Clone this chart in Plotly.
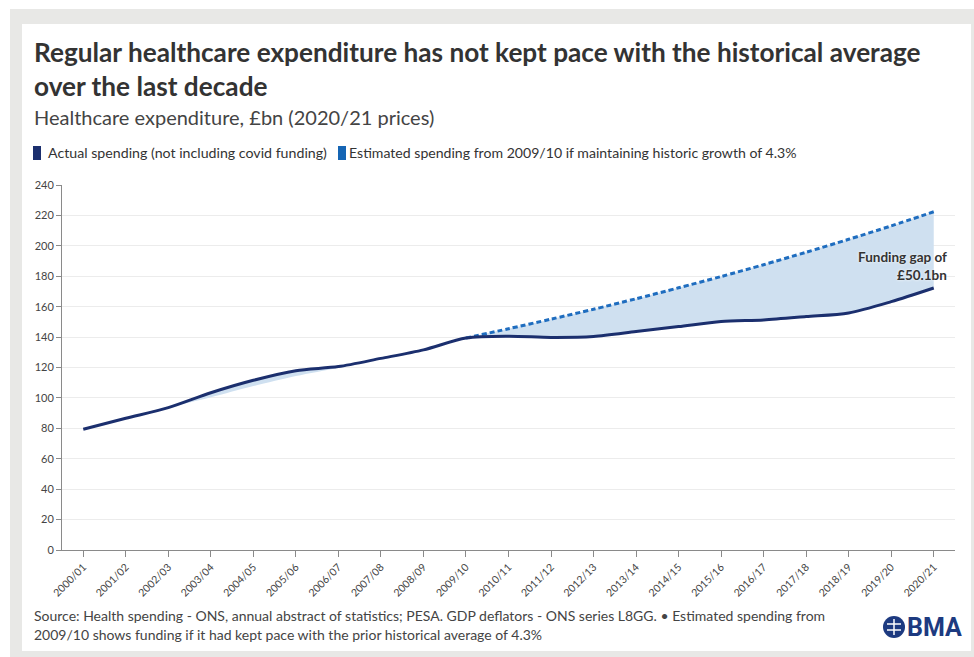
import plotly.graph_objects as go

years = ["2000/01", "2001/02", "2002/03", "2003/04", "2004/05", "2005/06", "2006/07",
         "2007/08", "2008/09", "2009/10", "2010/11", "2011/12", "2012/13", "2013/14",
         "2014/15", "2015/16", "2016/17", "2017/18", "2018/19", "2019/20", "2020/21"]
actual = [79.4, 86.6, 93.6, 103.4, 111.6, 117.9, 120.6, 126.0, 131.6, 139.4, 140.6,
          139.8, 140.4, 143.6, 146.9, 150.3, 151.3, 153.5, 155.9, 163.3, 172.3]
est_years = years[9:]
estimated = [139.4, 145.5, 151.8, 158.3, 165.2, 172.4, 179.8, 187.6, 195.8, 204.3, 213.1, 222.4]
# lower edge of the light shading in the early years (2000/01 - 2009/10)
shade_low_early = [79.4, 86.6, 93.6, 100.4, 107.8, 114.4, 119.9, 126.0, 131.6, 139.4]

shade_low = shade_low_early + actual[10:]
shade_high = actual[:10] + estimated[1:]

FONT = "Lato"
NAVY = "#1b2f6e"
BLUE = "#1f6dbf"
FILL = "#cfe0f0"
TXT = "#333333"

fig = go.Figure()
fig.add_trace(go.Scatter(x=years, y=shade_low, mode="lines",
                         line=dict(width=0, shape="spline", smoothing=0.8, color=FILL),
                         hoverinfo="skip", showlegend=False))
fig.add_trace(go.Scatter(x=years, y=shade_high, mode="lines", fill="tonexty", fillcolor=FILL,
                         line=dict(width=0, shape="spline", smoothing=0.8, color=FILL),
                         hoverinfo="skip", showlegend=False))
fig.add_trace(go.Scatter(x=est_years, y=estimated, mode="lines",
                         name="Estimated spending from 2009/10 if maintaining historic growth of 4.3%",
                         line=dict(width=3, color=BLUE, dash="5px,3px", shape="spline", smoothing=0.8),
                         showlegend=False))
fig.add_trace(go.Scatter(x=years, y=actual, mode="lines",
                         name="Actual spending (not including covid funding)",
                         line=dict(width=3, color=NAVY, shape="spline", smoothing=0.8),
                         showlegend=False))

# pixel -> paper helpers (plot area: x 62..955, y 185..550)
L, R, T, B = 62, 955, 185, 550
def px(x):
    return (x - L) / (R - L)
def py(y):
    return (B - y) / (B - T)

shapes = [
    # outer gray frame and white card
    dict(type="rect", xref="paper", yref="paper", x0=px(10), x1=px(990), y0=py(9), y1=py(680),
         fillcolor="#e8e8e6", line=dict(width=0), layer="below"),
    dict(type="rect", xref="paper", yref="paper", x0=px(22), x1=px(971), y0=py(24), y1=py(651),
         fillcolor="white", line=dict(width=0), layer="below"),
    # legend swatches
    dict(type="rect", xref="paper", yref="paper", x0=px(33), x1=px(41), y0=py(146), y1=py(160),
         fillcolor=NAVY, line=dict(width=0)),
    dict(type="rect", xref="paper", yref="paper", x0=px(338), x1=px(346), y0=py(146), y1=py(160),
         fillcolor="#1565b4", line=dict(width=0)),
    # BMA logo circle
    dict(type="circle", xref="paper", yref="paper", x0=px(883), x1=px(905), y0=py(616), y1=py(638),
         fillcolor="#1d3a80", line=dict(width=0)),
    dict(type="line", xref="paper", yref="paper", x0=px(887), x1=px(901), y0=py(624), y1=py(624),
         line=dict(color="white", width=1.5)),
    dict(type="line", xref="paper", yref="paper", x0=px(887), x1=px(901), y0=py(630), y1=py(630),
         line=dict(color="white", width=1.5)),
    dict(type="line", xref="paper", yref="paper", x0=px(894), x1=px(894), y0=py(619), y1=py(635),
         line=dict(color="white", width=1.5)),
]

annotations = [
    dict(text="<b>Regular healthcare expenditure has not kept pace with the historical average</b>",
         xref="paper", yref="paper", x=px(32), y=py(52), xanchor="left", yanchor="middle",
         showarrow=False, font=dict(family=FONT, size=26.2, color=TXT)),
    dict(text="<b>over the last decade</b>",
         xref="paper", yref="paper", x=px(32), y=py(86), xanchor="left", yanchor="middle",
         showarrow=False, font=dict(family=FONT, size=26.2, color=TXT)),
    dict(text="Healthcare expenditure, £bn (2020/21 prices)",
         xref="paper", yref="paper", x=px(32), y=py(117), xanchor="left", yanchor="middle",
         showarrow=False, font=dict(family=FONT, size=20, color="#444444")),
    dict(text="Actual spending (not including covid funding)",
         xref="paper", yref="paper", x=px(46), y=py(153), xanchor="left", yanchor="middle",
         showarrow=False, font=dict(family=FONT, size=14.2, color=TXT)),
    dict(text="Estimated spending from 2009/10 if maintaining historic growth of 4.3%",
         xref="paper", yref="paper", x=px(347), y=py(153), xanchor="left", yanchor="middle",
         showarrow=False, font=dict(family=FONT, size=14.1, color=TXT)),
    dict(text="<b>Funding gap of<br>£50.1bn</b>",
         xref="paper", yref="y", x=px(949), y=187, xanchor="right", yanchor="middle", align="right",
         showarrow=False, font=dict(family=FONT, size=13.5, color=TXT, shadow="0px 0px 3px white")),
    dict(text="Source: Health spending - ONS, annual abstract of statistics; PESA. GDP deflators - ONS series L8GG. • Estimated spending from",
         xref="paper", yref="paper", x=px(32), y=py(615), xanchor="left", yanchor="middle",
         showarrow=False, font=dict(family=FONT, size=14.0, color="#444444")),
    dict(text="2009/10 shows funding if it had kept pace with the prior historical average of 4.3%",
         xref="paper", yref="paper", x=px(32), y=py(634), xanchor="left", yanchor="middle",
         showarrow=False, font=dict(family=FONT, size=14.0, color="#444444")),
    dict(text="<b>BMA</b>",
         xref="paper", yref="paper", x=px(905), y=py(627), xanchor="left", yanchor="middle",
         showarrow=False, font=dict(family="Roboto", size=25, color="#1d3a80")),
]

fig.update_layout(
    width=974, height=657,
    margin=dict(l=L, r=974 - R, t=T, b=657 - B),
    paper_bgcolor="white", plot_bgcolor="white",
    shapes=shapes, annotations=annotations,
    showlegend=False,
    font=dict(family=FONT, color=TXT),
    xaxis=dict(type="category", categoryorder="array", categoryarray=years,
               range=[-0.5, 20.5], showgrid=False, showline=True, linecolor="#8a8a8a",
               linewidth=1, ticks="outside", ticklen=6, tickcolor="#8a8a8a",
               tickangle=-45, tickfont=dict(family=FONT, size=10.5, color="#444444")),
    yaxis=dict(range=[0, 240], dtick=20, showgrid=True, gridcolor="#ececec", gridwidth=1,
               showline=True, linecolor="#8a8a8a", linewidth=1, ticks="outside", ticklen=5,
               tickcolor="#8a8a8a", zeroline=False,
               tickfont=dict(family=FONT, size=11, color="#444444")),
)

fig.write_html("out.html", config={"displayModeBar": False},
               post_script="document.body.style.margin='0px';document.body.style.padding='0px';")
